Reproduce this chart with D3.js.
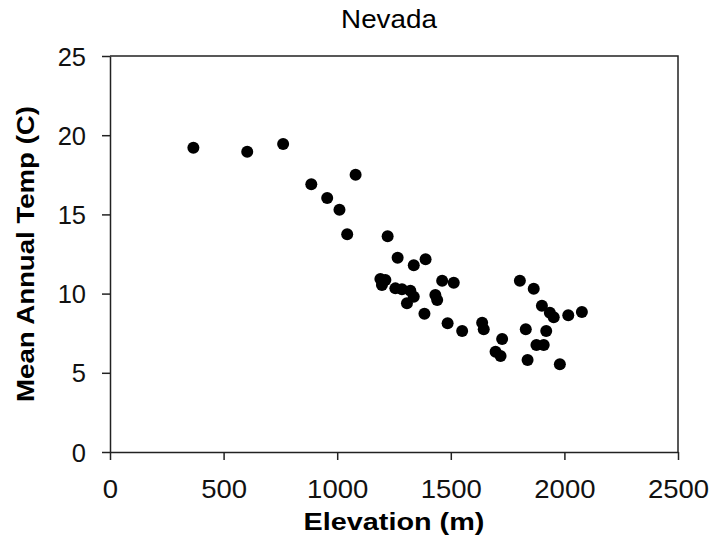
<!DOCTYPE html>
<html>
<head>
<meta charset="utf-8">
<script src="https://cdn.jsdelivr.net/npm/d3@7"></script>
<style>
  html, body { margin: 0; padding: 0; background: #fff; }
  svg { display: block; font-family: "Liberation Sans", Arial, sans-serif; }
</style>
</head>
<body>
<svg id="chart" width="727" height="550"></svg>
<script>
// Data
const elevation = [367, 604, 762, 1081, 886, 956, 1010, 1044, 1222, 1266,
  1337, 1389, 1190, 1212, 1197, 1256, 1285, 1322, 1337, 1307,
  1462, 1513, 1432, 1440, 1384, 1486, 1550, 1638, 1645, 1726,
  1697, 1719, 1804, 1830, 1838, 1865, 1901, 1936, 1953, 2017,
  2077, 1920, 1877, 1909, 1980];
const meanTemp = [19.21, 18.96, 19.44, 17.51, 16.90, 16.04, 15.30, 13.74, 13.62, 12.27,
  11.79, 12.17, 10.92, 10.86, 10.54, 10.33, 10.27, 10.18, 9.80, 9.39,
  10.81, 10.69, 9.91, 9.60, 8.73, 8.13, 7.64, 8.16, 7.75, 7.13,
  6.33, 6.06, 10.81, 7.75, 5.81, 10.31, 9.24, 8.79, 8.50, 8.63,
  8.84, 7.64, 6.76, 6.76, 5.54];
const xTicks = [0, 500, 1000, 1500, 2000, 2500];
const yTicks = [0, 5, 10, 15, 20, 25];
const titleText = "Nevada";
const xTitle = "Elevation (m)";
const yTitle = "Mean Annual Temp (C)";

const svg = d3.select("#chart");
const mLeft = 110, mRight = 678, mTop = 56, mBottom = 452;

const x = d3.scaleLinear().domain([0, 2500]).range([mLeft, mRight]);
const y = d3.scaleLinear().domain([0, 25]).range([mBottom, mTop]);

// plot frame (top and right borders)
svg.append("path")
  .attr("d", `M${mLeft},${mTop}H${mRight}V${mBottom}`)
  .attr("fill", "none").attr("stroke", "#222").attr("stroke-width", 1.5);

// X axis
const xAxis = svg.append("g").attr("transform", `translate(0,${mBottom})`)
  .call(d3.axisBottom(x).tickValues(xTicks).tickSize(8).tickSizeOuter(0).tickFormat(d3.format("d")));
xAxis.select(".domain").attr("stroke", "#222").attr("stroke-width", 1.5);
xAxis.selectAll(".tick line").attr("stroke", "#222").attr("stroke-width", 1.5);
xAxis.selectAll(".tick text")
  .attr("y", 0).attr("dy", null)
  .attr("font-size", 25).attr("fill", "#111")
  .attr("font-family", "'Liberation Sans', Arial, sans-serif")
  .attr("text-anchor", "middle")
  .attr("transform", "translate(0,46) scale(1.1,1)");

// Y axis
const yAxis = svg.append("g").attr("transform", `translate(${mLeft},0)`)
  .call(d3.axisLeft(y).tickValues(yTicks).tickSize(8).tickSizeOuter(0).tickFormat(d3.format("d")));
yAxis.select(".domain").attr("stroke", "#222").attr("stroke-width", 1.5);
yAxis.selectAll(".tick line").attr("stroke", "#222").attr("stroke-width", 1.5);
yAxis.selectAll(".tick text")
  .attr("x", 0).attr("dy", null).attr("y", 0)
  .attr("font-size", 25).attr("fill", "#111")
  .attr("font-family", "'Liberation Sans', Arial, sans-serif")
  .attr("text-anchor", "end")
  .attr("transform", "translate(-24,9) scale(1.02,1)");

// points
svg.append("g").selectAll("circle")
  .data(elevation.map((e, i) => ({ e, t: meanTemp[i] })))
  .join("circle")
  .attr("cx", d => x(d.e))
  .attr("cy", d => y(d.t))
  .attr("r", 6)
  .attr("fill", "#000");

// Title
svg.append("text")
  .attr("transform", "translate(389,28) scale(1.07,1)")
  .attr("text-anchor", "middle")
  .attr("font-size", 26)
  .attr("fill", "#000")
  .text(titleText);

// X title
svg.append("text")
  .attr("transform", "translate(394,530) scale(1.2,1)")
  .attr("text-anchor", "middle")
  .attr("font-size", 24).attr("font-weight", "bold")
  .attr("fill", "#000")
  .text(xTitle);

// Y title
svg.append("text")
  .attr("transform", "translate(34,254) rotate(-90) scale(1.15,1)")
  .attr("text-anchor", "middle")
  .attr("font-size", 24).attr("font-weight", "bold")
  .attr("fill", "#000")
  .text(yTitle);
</script>
</body>
</html>
